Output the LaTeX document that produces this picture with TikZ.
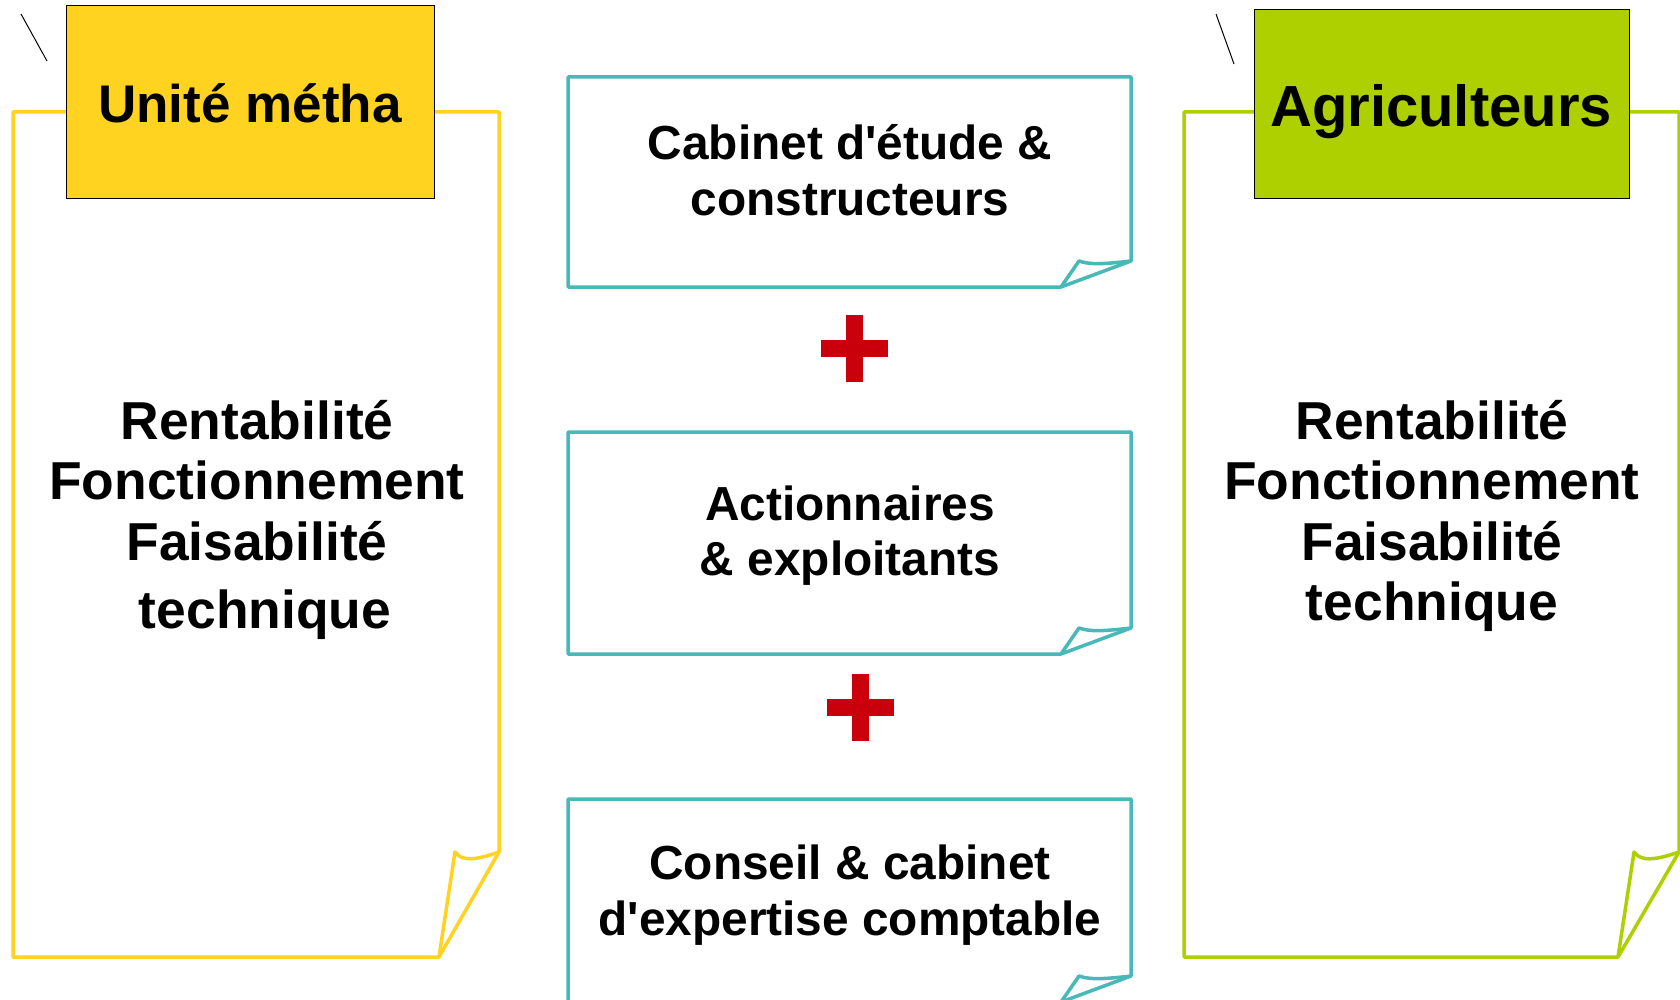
\documentclass[tikz,border=0pt]{standalone}
\usepackage{fontspec}
\setmainfont{Liberation Sans}
\usetikzlibrary{positioning}

\definecolor{methayellow}{HTML}{FFD320}
\definecolor{agrigreen}{HTML}{AECF00}
\definecolor{noteteal}{HTML}{48B8B8}
\definecolor{plusred}{HTML}{C9000B}

\begin{document}
\begin{tikzpicture}[x=0.5pt,y=-0.5pt,
  note/.style={line width=1.75pt,line join=round,fill=white},
  fold/.style={line width=1.75pt,line join=round},
  header/.style={draw=black,line width=0.5pt},
  bigtxt/.style={anchor=base,inner sep=0pt,font=\fontsize{26.7}{32}\bfseries\selectfont},
  midtxt/.style={anchor=base,inner sep=0pt,font=\fontsize{23.9}{29}\bfseries\selectfont}]
\useasboundingbox (0,0) rectangle (1680,1000);
\clip (0,0) rectangle (1680,1000);

% left note: Unite metha
\draw[note,draw=methayellow] (13,112) -- (499,112) -- (499,852) -- (439,957) -- (13,957) -- cycle;
\draw[fold,draw=methayellow] (439,957) -- (455,852) .. controls (462,862) and (476,860) .. (499,852);
\draw[header,fill=methayellow] (66,6) rectangle (434,199);
\draw[line width=0.5pt] (21,14) -- (47,61);
\node[anchor=base,inner sep=0pt,font=\fontsize{26.5}{32}\bfseries\selectfont] (metha) at (250,123) {Unité métha};
\node[bigtxt] (mrent) at (257,439) {Rentabilité};
\node[bigtxt] (mfonc) at (257,499) {Fonctionnement};
\node[bigtxt] (mfais) at (257,560) {Faisabilité};
\node[bigtxt] (mtech) at (265,628) {technique};

% right note: Agriculteurs
\draw[note,draw=agrigreen] (1184,112) -- (1679,112) -- (1679,852) -- (1618,957) -- (1184,957) -- cycle;
\draw[fold,draw=agrigreen] (1618,957) -- (1634,852) .. controls (1641,862) and (1656,860) .. (1679,852);
\draw[header,fill=agrigreen] (1254,10) rectangle (1629,199);
\draw[line width=0.5pt] (1216,14) -- (1234,64);
\node[anchor=base,inner sep=0pt,font=\fontsize{29}{35}\bfseries\selectfont] (agri) at (1441,127) {Agriculteurs};
\node[bigtxt] (arent) at (1432,439) {Rentabilité};
\node[bigtxt] (afonc) at (1432,499) {Fonctionnement};
\node[bigtxt] (afais) at (1432,560) {Faisabilité};
\node[bigtxt] (atech) at (1432,620) {technique};

% middle notes
\foreach \t/\b in {77/287, 432/654, 799/1002}{
  \draw[note,draw=noteteal] (568,\t) -- (1131,\t) -- (1131,\b-26) -- (1061,\b) -- (568,\b) -- cycle;
  \draw[fold,draw=noteteal] (1061,\b) -- (1079,\b-26) .. controls (1090,\b-22) and (1105,\b-23) .. (1131,\b-26);
}
\node[midtxt] (cab1) at (850,160) {Cabinet d\textquotesingle étude \&};
\node[midtxt] (cab2) at (850,216) {constructeurs};
\node[midtxt] (act1) at (850,520) {Actionnaires};
\node[midtxt] (act2) at (850,575) {\& exploitants};
\node[midtxt] (con1) at (850,879) {Conseil \& cabinet};
\node[midtxt] (con2) at (850,935) {d\textquotesingle expertise comptable};

% plus signs
\foreach \cx/\cy in {854/348, 860/707}{
  \fill[plusred] (\cx-33.5,\cy-8.5) rectangle (\cx+33.5,\cy+8.5);
  \fill[plusred] (\cx-8.5,\cy-33.5) rectangle (\cx+8.5,\cy+33.5);
}
\end{tikzpicture}
\end{document}
